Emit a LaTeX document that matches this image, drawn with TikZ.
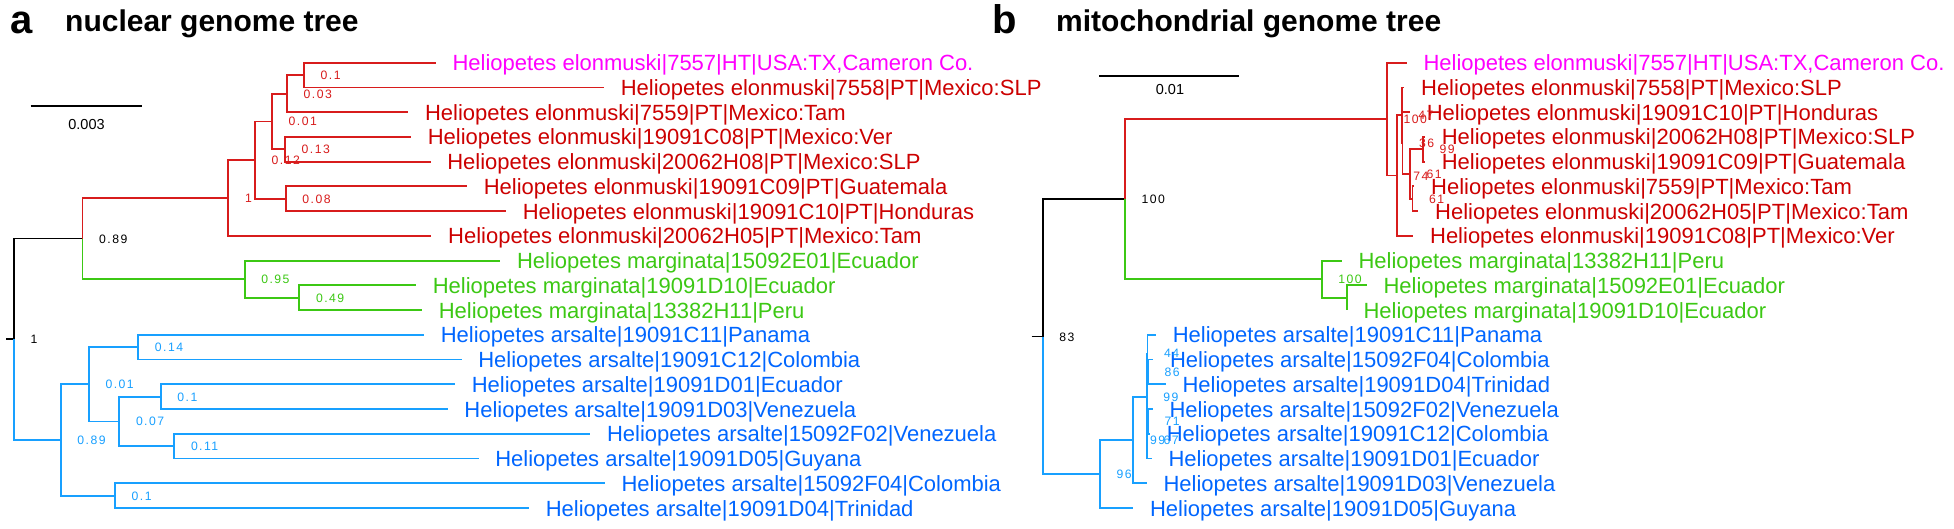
\documentclass[tikz,border=0pt]{standalone}
\usepackage{fontspec}
\setmainfont{Liberation Sans}
\newfontfamily\suplabfont[LetterSpace=12]{Liberation Sans}
\usetikzlibrary{calc}
\definecolor{cred}{RGB}{216,28,28}
\definecolor{credt}{RGB}{204,0,0}
\definecolor{cmag}{RGB}{255,0,255}
\definecolor{cgrn}{RGB}{60,200,20}
\definecolor{cblu}{RGB}{24,160,255}
\definecolor{cblut}{RGB}{0,102,255}
\tikzset{
  br/.style={line width=1.8pt},
  tiplab/.style={inner sep=0pt, anchor=base west, font=\fontsize{22}{22}\selectfont},
  suplab/.style={inner sep=0pt, anchor=base west, font=\suplabfont\fontsize{12.2}{13}\selectfont},
  title/.style={inner sep=0pt, anchor=base west, font=\bfseries\fontsize{30}{30}\selectfont},
  panel/.style={inner sep=0pt, anchor=base west, font=\bfseries\fontsize{40}{40}\selectfont},
  scalelab/.style={inner sep=0pt, font=\fontsize{14.5}{15}\selectfont},
}
\newcommand{\mytip}[5]{\coordinate (#1) at (#2,#3);
  \node[tiplab,text=#4] (L#1) at ([xshift=16.6pt,yshift=-8pt]#1) {#5};}
\newcommand{\mysup}[3]{\node[suplab,text=#2] (S#1) at ([xshift=16.5pt,yshift=-4.5pt]#1) {#3};}
\begin{document}
\begin{tikzpicture}[x=1pt,y=-1pt]
\fill[white] (0,0) rectangle (1954,529);
\useasboundingbox (0,0) rectangle (1954,529);
% ---------------- titles
\node[panel] (pa) at (10,34) {a};
\node[title] (ta) at (65,31.5) {nuclear genome tree};
\node[panel] (pb) at (992,34) {b};
\node[title] (tb) at (1056,31.5) {mitochondrial genome tree};
% ---------------- scale bars
\coordinate (sa1) at (30.7,106); \coordinate (sa2) at (142.3,106);
\draw[br,black] (sa1) -- (sa2);
\node[scalelab] (sal) at (86.5,124.2) {0.003};
\coordinate (sb1) at (1099,76); \coordinate (sb2) at (1239.3,76);
\draw[br,black] (sb1) -- (sb2);
\node[scalelab] (sbl) at (1170,90) {0.01};
% ================= tree a
\mytip{ta0}{435.7}{62.7}{cmag}{Heliopetes elonmuski|7557|HT|USA:TX,Cameron Co.}
\mytip{ta1}{604}{87.44}{credt}{Heliopetes elonmuski|7558|PT|Mexico:SLP}
\mytip{ta2}{408.3}{112.18}{credt}{Heliopetes elonmuski|7559|PT|Mexico:Tam}
\mytip{ta3}{411}{136.92}{credt}{Heliopetes elonmuski|19091C08|PT|Mexico:Ver}
\mytip{ta4}{430.5}{161.66}{credt}{Heliopetes elonmuski|20062H08|PT|Mexico:SLP}
\mytip{ta5}{467}{186.4}{credt}{Heliopetes elonmuski|19091C09|PT|Guatemala}
\mytip{ta6}{506}{211.14}{credt}{Heliopetes elonmuski|19091C10|PT|Honduras}
\mytip{ta7}{431.4}{235.88}{credt}{Heliopetes elonmuski|20062H05|PT|Mexico:Tam}
\mytip{ta8}{500.3}{260.62}{cgrn}{Heliopetes marginata|15092E01|Ecuador}
\mytip{ta9}{416}{285.36}{cgrn}{Heliopetes marginata|19091D10|Ecuador}
\mytip{ta10}{422}{310.1}{cgrn}{Heliopetes marginata|13382H11|Peru}
\mytip{ta11}{424}{334.84}{cblut}{Heliopetes arsalte|19091C11|Panama}
\mytip{ta12}{461.5}{359.58}{cblut}{Heliopetes arsalte|19091C12|Colombia}
\mytip{ta13}{455}{384.32}{cblut}{Heliopetes arsalte|19091D01|Ecuador}
\mytip{ta14}{447.6}{409.06}{cblut}{Heliopetes arsalte|19091D03|Venezuela}
\mytip{ta15}{590.2}{433.8}{cblut}{Heliopetes arsalte|15092F02|Venezuela}
\mytip{ta16}{478.5}{458.54}{cblut}{Heliopetes arsalte|19091D05|Guyana}
\mytip{ta17}{604.7}{483.28}{cblut}{Heliopetes arsalte|15092F04|Colombia}
\mytip{ta18}{529}{508.02}{cblut}{Heliopetes arsalte|19091D04|Trinidad}
\coordinate (aA) at (304,75.07);
\coordinate (aB) at (287,93.63);
\coordinate (aC) at (285,149.29);
\coordinate (aD) at (272,121.46);
\coordinate (aE) at (285.7,198.77);
\coordinate (aF) at (255,160.12);
\coordinate (aG) at (228.3,198.0);
\coordinate (aH) at (299.3,297.73);
\coordinate (aI) at (244.6,279.18);
\coordinate (aJ) at (82.5,238.59);
\coordinate (aK) at (138.2,347.21);
\coordinate (aL) at (160.7,396.69);
\coordinate (aM) at (174.3,446.17);
\coordinate (aN) at (119.3,421.43);
\coordinate (aO) at (88.9,384.32);
\coordinate (aP) at (115,495.65);
\coordinate (aQ) at (60.7,439.99);
\coordinate (aR) at (14,339.29);
\coordinate (aS) at (6,339.29);
\draw[br,black] (aS) -- (aR);
\draw[br,black] (aR) |- (aJ);
\draw[br,cred] (aJ) |- (aG); \draw[br,cred] (aG) |- (aF); \draw[br,cred] (aG) |- (ta7);
\draw[br,cred] (aF) |- (aD); \draw[br,cred] (aF) |- (aE);
\draw[br,cred] (aD) |- (aB); \draw[br,cred] (aD) |- (aC);
\draw[br,cred] (aB) |- (aA); \draw[br,cred] (aB) |- (ta2);
\draw[br,cred] (aA) |- (ta0); \draw[br,cred] (aA) |- (ta1);
\draw[br,cred] (aC) |- (ta3); \draw[br,cred] (aC) |- (ta4);
\draw[br,cred] (aE) |- (ta5); \draw[br,cred] (aE) |- (ta6);
\draw[br,cgrn] (aJ) |- (aI); \draw[br,cgrn] (aI) |- (ta8); \draw[br,cgrn] (aI) |- (aH);
\draw[br,cgrn] (aH) |- (ta9); \draw[br,cgrn] (aH) |- (ta10);
\draw[br,cblu] (aR) |- (aQ); \draw[br,cblu] (aQ) |- (aO); \draw[br,cblu] (aQ) |- (aP);
\draw[br,cblu] (aO) |- (aK); \draw[br,cblu] (aO) |- (aN);
\draw[br,cblu] (aK) |- (ta11); \draw[br,cblu] (aK) |- (ta12);
\draw[br,cblu] (aN) |- (aL); \draw[br,cblu] (aN) |- (aM);
\draw[br,cblu] (aL) |- (ta13); \draw[br,cblu] (aL) |- (ta14);
\draw[br,cblu] (aM) |- (ta15); \draw[br,cblu] (aM) |- (ta16);
\draw[br,cblu] (aP) |- (ta17); \draw[br,cblu] (aP) |- (ta18);
\mysup{aA}{cred}{0.1} \mysup{aB}{cred}{0.03} \mysup{aD}{cred}{0.01}
\mysup{aC}{cred}{0.13} \mysup{aF}{cred}{0.12} \mysup{aG}{cred}{1}
\mysup{aE}{cred}{0.08} \mysup{aJ}{black}{0.89} \mysup{aI}{cgrn}{0.95}
\mysup{aH}{cgrn}{0.49} \mysup{aR}{black}{1} \mysup{aK}{cblu}{0.14}
\mysup{aO}{cblu}{0.01} \mysup{aN}{cblu}{0.07} \mysup{aL}{cblu}{0.1}
\mysup{aM}{cblu}{0.11} \mysup{aQ}{cblu}{0.89} \mysup{aP}{cblu}{0.1}
% ================= tree b
\mytip{tb0}{1406.7}{62.7}{cmag}{Heliopetes elonmuski|7557|HT|USA:TX,Cameron Co.}
\mytip{tb1}{1404.3}{87.44}{credt}{Heliopetes elonmuski|7558|PT|Mexico:SLP}
\mytip{tb2}{1410}{112.18}{credt}{Heliopetes elonmuski|19091C10|PT|Honduras}
\mytip{tb3}{1425}{136.92}{credt}{Heliopetes elonmuski|20062H08|PT|Mexico:SLP}
\mytip{tb4}{1425}{161.66}{credt}{Heliopetes elonmuski|19091C09|PT|Guatemala}
\mytip{tb5}{1414.4}{186.4}{credt}{Heliopetes elonmuski|7559|PT|Mexico:Tam}
\mytip{tb6}{1418.4}{211.14}{credt}{Heliopetes elonmuski|20062H05|PT|Mexico:Tam}
\mytip{tb7}{1413.3}{235.88}{credt}{Heliopetes elonmuski|19091C08|PT|Mexico:Ver}
\mytip{tb8}{1341.7}{260.62}{cgrn}{Heliopetes marginata|13382H11|Peru}
\mytip{tb9}{1366.7}{285.36}{cgrn}{Heliopetes marginata|15092E01|Ecuador}
\mytip{tb10}{1346.7}{310.1}{cgrn}{Heliopetes marginata|19091D10|Ecuador}
\mytip{tb11}{1156}{334.84}{cblut}{Heliopetes arsalte|19091C11|Panama}
\mytip{tb12}{1153.3}{359.58}{cblut}{Heliopetes arsalte|15092F04|Colombia}
\mytip{tb13}{1165.7}{384.32}{cblut}{Heliopetes arsalte|19091D04|Trinidad}
\mytip{tb14}{1152.7}{409.06}{cblut}{Heliopetes arsalte|15092F02|Venezuela}
\mytip{tb15}{1150}{433.8}{cblut}{Heliopetes arsalte|19091C12|Colombia}
\mytip{tb16}{1151.7}{458.54}{cblut}{Heliopetes arsalte|19091D01|Ecuador}
\mytip{tb17}{1146.7}{483.28}{cblut}{Heliopetes arsalte|19091D03|Venezuela}
\mytip{tb18}{1133.3}{508.02}{cblut}{Heliopetes arsalte|19091D05|Guyana}
\coordinate (bG) at (1423,149.29);
\coordinate (bH) at (1412.5,198.77);
\coordinate (bX) at (1410,174.03);
\coordinate (bD) at (1402.5,143.1);
\coordinate (bC) at (1401.7,115.27);
\coordinate (bB) at (1396.7,175.58);
\coordinate (bA) at (1387,119.14);
\coordinate (bI) at (1346.7,297.73);
\coordinate (bJ) at (1321.7,279.18);
\coordinate (bK) at (1125,199.16);
\coordinate (bZ) at (1148,371.95);
\coordinate (bU) at (1147.5,353.4);
\coordinate (bW) at (1148,421.43);
\coordinate (bY) at (1147,439.99);
\coordinate (bN) at (1146.7,396.69);
\coordinate (bM) at (1133.3,439.99);
\coordinate (bL) at (1100,474.0);
\coordinate (bR) at (1042.7,336.58);
\coordinate (bS) at (1031.7,336.58);
\draw[br,black] (bS) -- (bR);
\draw[br,black] (bR) |- (bK);
\draw[br,cred] (bK) |- (bA); \draw[br,cred] (bA) |- (tb0); \draw[br,cred] (bA) |- (bB);
\draw[br,cred] (bB) |- (bC); \draw[br,cred] (bB) |- (tb7);
\draw[br,cred] (bC) |- (tb1); \draw[br,cred] (bC) |- (bD);
\draw[br,cred] (bD) |- (tb2); \draw[br,cred] (bD) |- (bX);
\draw[br,cred] (bX) |- (bG); \draw[br,cred] (bX) |- (bH);
\draw[br,cred] (bG) |- (tb3); \draw[br,cred] (bG) |- (tb4);
\draw[br,cred] (bH) |- (tb5); \draw[br,cred] (bH) |- (tb6);
\draw[br,cgrn] (bK) |- (bJ); \draw[br,cgrn] (bJ) |- (tb8); \draw[br,cgrn] (bJ) |- (bI);
\draw[br,cgrn] (bI) |- (tb9); \draw[br,cgrn] (bI) |- (tb10);
\draw[br,cblu] (bR) |- (bL); \draw[br,cblu] (bL) |- (bM); \draw[br,cblu] (bL) |- (tb18);
\draw[br,cblu] (bM) |- (bN); \draw[br,cblu] (bM) |- (tb17);
\draw[br,cblu] (bN) |- (bU); \draw[br,cblu] (bN) |- (bY);
\draw[br,cblu] (bU) |- (tb11); \draw[br,cblu] (bU) |- (bZ);
\draw[br,cblu] (bZ) |- (tb12); \draw[br,cblu] (bZ) |- (tb13);
\draw[br,cblu] (bY) |- (bW); \draw[br,cblu] (bY) |- (tb16);
\draw[br,cblu] (bW) |- (tb14); \draw[br,cblu] (bW) |- (tb15);
\mysup{bR}{black}{83} \mysup{bK}{black}{100} \mysup{bJ}{cgrn}{100}
\mysup{bA}{cred}{100} \mysup{bC}{cred}{47} \mysup{bB}{cred}{74}
\mysup{bD}{cred}{36} \mysup{bX}{cred}{61} \mysup{bG}{cred}{99}
\mysup{bH}{cred}{61}
\mysup{bU}{cblu}{44} \mysup{bZ}{cblu}{86} \mysup{bN}{cblu}{99}
\mysup{bW}{cblu}{71} \mysup{bY}{cblu}{67} \mysup{bM}{cblu}{99}
\mysup{bL}{cblu}{96}
\end{tikzpicture}
\end{document}
